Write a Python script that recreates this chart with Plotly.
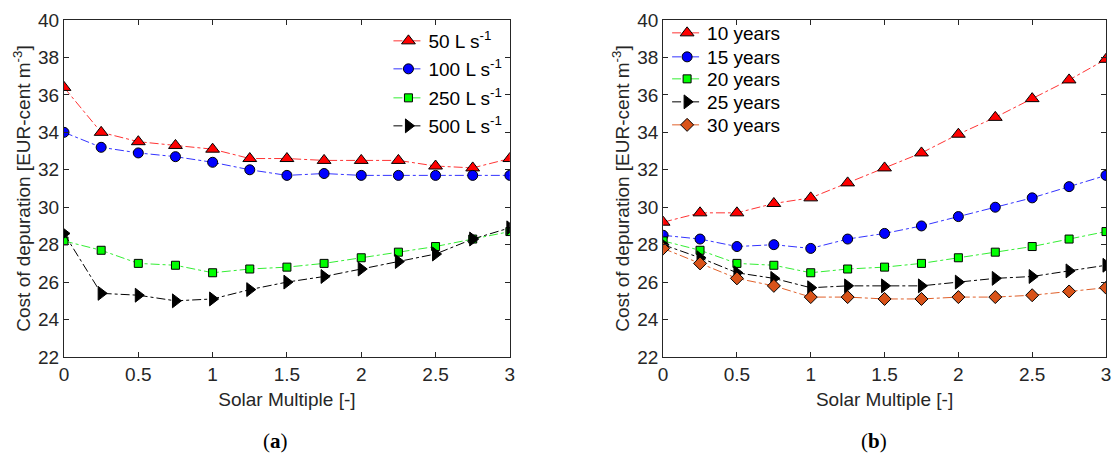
import plotly.graph_objects as go

sm = [0, 0.25, 0.5, 0.75, 1, 1.25, 1.5, 1.75, 2, 2.25, 2.5, 2.75, 3]

flow_names = ["50 L s<sup>-1</sup>", "100 L s<sup>-1</sup>", "250 L s<sup>-1</sup>", "500 L s<sup>-1</sup>"]
q50 = [36.4, 34.0, 33.5, 33.3, 33.1, 32.6, 32.6, 32.5, 32.5, 32.5, 32.2, 32.1, 32.6]
q100 = [34.0, 33.2, 32.9, 32.7, 32.4, 32.0, 31.7, 31.8, 31.7, 31.7, 31.7, 31.7, 31.7]
q250 = [28.2, 27.7, 27.0, 26.9, 26.5, 26.7, 26.8, 27.0, 27.3, 27.6, 27.9, 28.3, 28.7]
q500 = [28.6, 25.4, 25.3, 25.0, 25.1, 25.6, 26.0, 26.3, 26.7, 27.1, 27.5, 28.3, 28.9]

life_names = ["10 years", "15 years", "20 years", "25 years", "30 years"]
y10 = [29.2, 29.7, 29.7, 30.2, 30.5, 31.3, 32.1, 32.9, 33.9, 34.8, 35.8, 36.8, 37.9]
y15 = [28.5, 28.3, 27.9, 28.0, 27.8, 28.3, 28.6, 29.0, 29.5, 30.0, 30.5, 31.1, 31.7]
y20 = [28.2, 27.7, 27.0, 26.9, 26.5, 26.7, 26.8, 27.0, 27.3, 27.6, 27.9, 28.3, 28.7]
y25 = [28.0, 27.3, 26.5, 26.2, 25.7, 25.8, 25.8, 25.8, 26.0, 26.2, 26.3, 26.6, 26.9]
y30 = [27.8, 27.0, 26.2, 25.8, 25.2, 25.2, 25.1, 25.1, 25.2, 25.2, 25.3, 25.5, 25.7]

line_colors = ["#ff3333", "#3333ff", "#33ee33", "#000000", "#e0602a"]
fill_colors = ["#ff0000", "#0000ff", "#00ff00", "#000000", "#d95319"]
symbols = ["triangle-up", "circle", "square", "triangle-right", "diamond"]
sizes = [12, 10, 8, 12, 10]

FONT = "Liberation Sans, Arial, sans-serif"
TXT = "#262626"

W, H = 1119, 456
ML, MR, MT, MB = 64, 8, 20, 99
PW, PH = W - ML - MR, H - MT - MB


def px(xp):
    return (xp - ML) / PW


def py(yp):
    return (H - MB - yp) / PH


# legend row positions (pixels) for each panel
legL_sym_x, legL_rows = 410, [41, 69, 98, 126]
legR_sym_x, legR_rows = 690, [33, 57, 79, 102, 125]

fig = go.Figure()
legends = {}
k = 1
for i, (nm, ys) in enumerate(zip(flow_names, [q50, q100, q250, q500])):
    lname = "legend" if k == 1 else f"legend{k}"
    fig.add_trace(go.Scatter(
        x=sm, y=ys, name=nm, mode="lines+markers", xaxis="x", yaxis="y", legend=lname,
        line=dict(color=line_colors[i], width=1, dash="dashdot"),
        marker=dict(symbol=symbols[i], size=sizes[i], color=fill_colors[i],
                    line=dict(color="#000000", width=1))))
    legends[lname] = dict(x=px(legL_sym_x - 20), y=py(legL_rows[i]), xanchor="left", yanchor="middle",
                          bgcolor="rgba(255,255,255,0)", borderwidth=0, itemwidth=30,
                          font=dict(family=FONT, size=19, color="#000000"))
    k += 1

for i, (nm, ys) in enumerate(zip(life_names, [y10, y15, y20, y25, y30])):
    lname = f"legend{k}"
    fig.add_trace(go.Scatter(
        x=sm, y=ys, name=nm, mode="lines+markers", xaxis="x2", yaxis="y2", legend=lname,
        line=dict(color=line_colors[i], width=1, dash="dashdot"),
        marker=dict(symbol=symbols[i], size=sizes[i], color=fill_colors[i],
                    line=dict(color="#000000", width=1))))
    legends[lname] = dict(x=px(legR_sym_x - 20), y=py(legR_rows[i]), xanchor="left", yanchor="middle",
                          bgcolor="rgba(255,255,255,0)", borderwidth=0, itemwidth=30,
                          font=dict(family=FONT, size=19, color="#000000"))
    k += 1

ax_common = dict(
    showline=True, mirror="allticks", linecolor=TXT, linewidth=1,
    ticks="inside", ticklen=5, tickcolor=TXT, showgrid=False, zeroline=False,
    tickfont=dict(family=FONT, size=19, color=TXT),
    title_font=dict(family=FONT, size=19, color=TXT),
)

xdomL = [0, px(512)]
xdomR = [px(666), 1]

fig.update_layout(
    width=W, height=H,
    margin=dict(l=ML, r=MR, t=MT, b=MB),
    paper_bgcolor="white", plot_bgcolor="white",
    font=dict(family=FONT, size=19, color=TXT),
    xaxis=dict(domain=xdomL, range=[0, 3], dtick=0.5, anchor="y",
               title=dict(text="Solar Multiple [-]", standoff=8), **ax_common),
    yaxis=dict(domain=[0, 1], range=[22, 40], dtick=2, anchor="x",
               title=dict(text="Cost of depuration [EUR-cent m<sup>-3</sup>]", standoff=2), **ax_common),
    xaxis2=dict(domain=xdomR, range=[0, 3], dtick=0.5, anchor="y2",
                title=dict(text="Solar Multiple [-]", standoff=8), **ax_common),
    yaxis2=dict(domain=[0, 1], range=[22, 40], dtick=2, anchor="x2",
                title=dict(text="Cost of depuration [EUR-cent m<sup>-3</sup>]", standoff=2), **ax_common),
    showlegend=True,
    annotations=[
        dict(text="(<b>a</b>)", x=px(277), y=py(441), xref="paper", yref="paper",
             xanchor="center", yanchor="middle",
             showarrow=False, font=dict(family="Liberation Serif, serif", size=21, color="#000000")),
        dict(text="(<b>b</b>)", x=px(878), y=py(441), xref="paper", yref="paper",
             xanchor="center", yanchor="middle",
             showarrow=False, font=dict(family="Liberation Serif, serif", size=21, color="#000000")),
    ],
    **legends,
)

fig.write_html("out.html", config={"displayModeBar": False},
               post_script="document.body.style.margin='0';document.body.style.overflow='hidden';")
